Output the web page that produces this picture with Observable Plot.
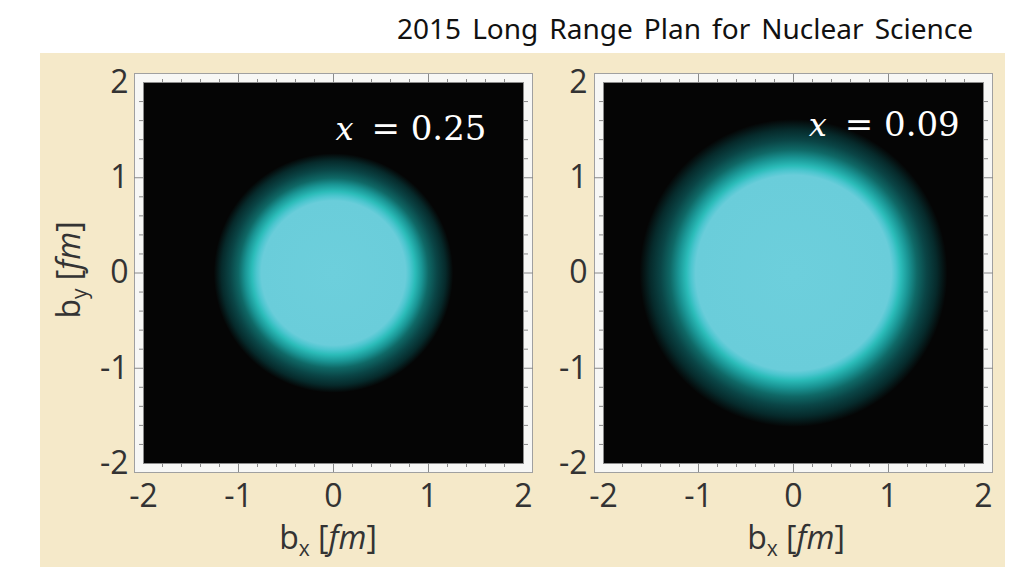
<!DOCTYPE html>
<html>
<head>
<meta charset="utf-8">
<script src="https://cdn.jsdelivr.net/npm/d3@7"></script>
<script src="https://cdn.jsdelivr.net/npm/@observablehq/plot@0.6"></script>
<style>
  body { margin: 0; background: #ffffff; }
  #page { position: relative; width: 1015px; height: 567px; overflow: hidden; background: #ffffff; }
  #title { position: absolute; left: 397px; top: 14px; font-family: "Noto Sans", sans-serif; font-size: 28px; line-height: 28px; color: #111; white-space: nowrap; }
  #beige { position: absolute; left: 40px; top: 53px; width: 965px; height: 514px; background: #f5e9c9; }
  .lab { position: absolute; font-family: "Open Sans", sans-serif; font-size: 32px; line-height: 32px; color: #333; white-space: nowrap; }
  .lab .sub { font-size: 21px; position: relative; top: 7px; }
  #ylab { transform-origin: center center; }
  svg.panel { position: absolute; top: 53px; }
</style>
</head>
<body>
<div id="page">
  <div id="title">2015 Long Range Plan for Nuclear Science</div>
  <div id="beige"></div>
  <div class="lab" id="xlabL">b<span class="sub">x</span> [<i>fm</i>]</div>
  <div class="lab" id="xlabR">b<span class="sub">x</span> [<i>fm</i>]</div>
  <div class="lab" id="ylab">b<span class="sub">y</span> [<i>fm</i>]</div>
</div>
<script>
// ---- data ----
const xVar = ["0.25", "0.09"];                 // momentum fraction per panel
const majorTicks = [-2, -1, 0, 1, 2];          // labelled ticks (fm)
const innerMajor = [-1, 0, 1];                 // long frame ticks
const minorTicks = [-1.8, -1.6, -1.4, -1.2, -0.8, -0.6, -0.4, -0.2, 0.2, 0.4, 0.6, 0.8, 1.2, 1.4, 1.6, 1.8];
const centerX = [0, 0];                        // disk centre b_x (fm)
const centerY = [0, 0];                        // disk centre b_y (fm)
const labelX = [0.02, 0.16];                   // annotation start (fm)
const labelY = [1.40, 1.44];                   // annotation baseline (fm)
// radial intensity profiles: radius (fm) and colour
const radiusL = [0, 0.76, 0.81, 0.86, 0.93, 1.00, 1.09, 1.18, 1.26];
const colorL  = ["#6dcfdc", "#6acdda", "#4cc6cf", "#2bbcb9", "#1a9695", "#0f6866", "#0a4546", "#062a2b", "#050505"];
const radiusR = [0, 1.03, 1.08, 1.13, 1.21, 1.30, 1.40, 1.51, 1.62];
const colorR  = ["#6dcfdc", "#6acdda", "#4cc6cf", "#2bbcb9", "#1a9695", "#0f6866", "#0a4546", "#062a2b", "#050505"];

const radii = [radiusL, radiusR];
const colors = [colorL, colorR];

function tickAxes() {
  const st = {stroke: "#8a8a8a", fill: "none", label: null, tickFormat: () => ""};
  const out = [];
  for (const a of ["top", "bottom"]) {
    out.push(Plot.axisX({...st, anchor: a, ticks: minorTicks, tickSize: 4}));
    out.push(Plot.axisX({...st, anchor: a, ticks: innerMajor, tickSize: 9}));
  }
  for (const a of ["left", "right"]) {
    out.push(Plot.axisY({...st, anchor: a, ticks: minorTicks, tickSize: 4}));
    out.push(Plot.axisY({...st, anchor: a, ticks: innerMajor, tickSize: 9}));
  }
  return out;
}

function panel(i, cfg) {
  const id = "glow" + i;
  const rad = radii[i], col = colors[i];
  const rmax = rad[rad.length - 1];
  const disk = [{x: centerX[i], y: centerY[i], r: rmax}];
  const ann = [{x: labelX[i], y: labelY[i], v: "x", rest: "= " + xVar[i]}];
  const svg = Plot.plot({
    width: cfg.width, height: 514,
    marginLeft: cfg.ml, marginRight: cfg.mr, marginTop: 29, marginBottom: 104,
    x: {domain: [-2, 2]},
    y: {domain: [-2, 2]},
    r: {type: "linear", domain: [0, 2], range: [0, 190]},
    style: {background: "transparent", color: "#333", fontFamily: "'Open Sans', sans-serif", overflow: "visible"},
    marks: [
      Plot.frame({fill: "#f7f7f5", stroke: "#a0a0a0", inset: -9}),
      Plot.frame({fill: "#050505", stroke: "#8c8c8c"}),
      Plot.dot(disk, {x: "x", y: "y", r: "r", fill: `url(#${id})`, stroke: "none"}),
      Plot.text(ann, {x: "x", y: "y", text: "v", textAnchor: "start", lineAnchor: "bottom", fill: "white",
        fontFamily: "'DejaVu Serif', serif", fontStyle: "italic", fontSize: 32}),
      Plot.text(ann, {x: "x", y: "y", text: "rest", textAnchor: "start", lineAnchor: "bottom", fill: "white", dx: 36,
        fontFamily: "'DejaVu Serif', serif", fontSize: 34}),
      ...tickAxes(),
      Plot.axisX({anchor: "bottom", ticks: majorTicks, tickSize: 0, tickPadding: 21, fontSize: 32, fill: "#333",
        tickFormat: d => String(d), label: null}),
      Plot.axisY({anchor: "left", ticks: majorTicks, tickSize: 0, tickPadding: cfg.yPad, fontSize: 32, fill: "#333",
        tickFormat: d => String(d), label: null})
    ]
  });
  const defs = d3.select(svg).insert("defs", ":first-child");
  const g = defs.append("radialGradient").attr("id", id);
  rad.forEach((r, k) => g.append("stop").attr("offset", r / rmax).attr("stop-color", col[k]));
  svg.classList.add("panel");
  svg.style.left = cfg.left + "px";
  document.getElementById("page").appendChild(svg);
}

panel(0, {left: 40, width: 520, ml: 103, mr: 37, yPad: 15});
panel(1, {left: 560, width: 445, ml: 43, mr: 22, yPad: 16});

// fit title width with word spacing
const t = document.getElementById("title");
const tw = t.getBoundingClientRect().width;
const spaces = t.textContent.split(" ").length - 1;
t.style.wordSpacing = Math.max(0, (576 - tw) / spaces) + "px";

// place axis labels
function center(el, cx, top) {
  const w = el.getBoundingClientRect().width;
  el.style.left = (cx - w / 2) + "px";
  el.style.top = top + "px";
}
center(document.getElementById("xlabL"), 328, 521);
center(document.getElementById("xlabR"), 796, 521);
const yl = document.getElementById("ylab");
const yw = yl.getBoundingClientRect().width;
yl.style.left = (70 - yw / 2) + "px";
yl.style.top = (268 - 16) + "px";
yl.style.transform = "rotate(-90deg)";
</script>
</body>
</html>
